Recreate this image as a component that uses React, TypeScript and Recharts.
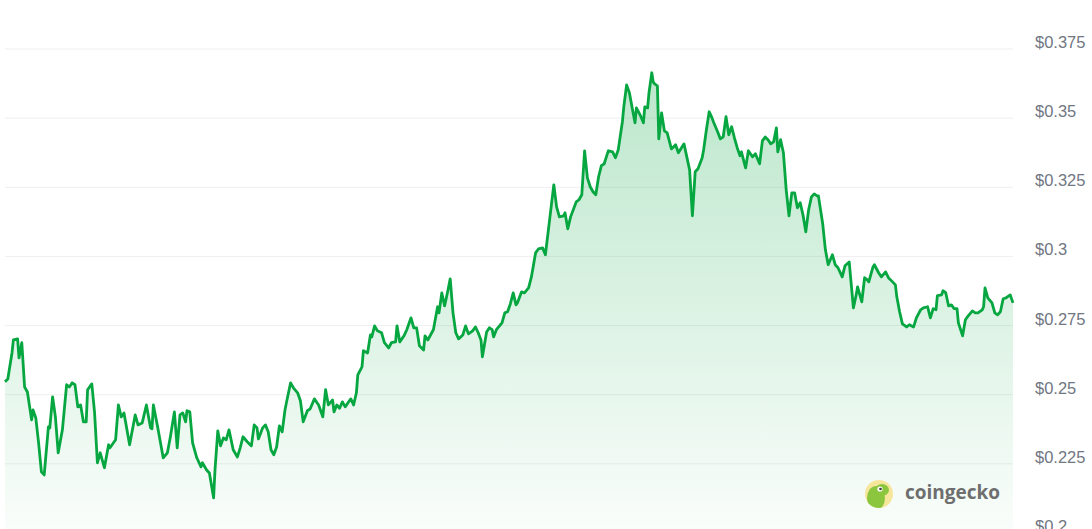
import React from "react";
import { AreaChart, Area, XAxis, YAxis, CartesianGrid } from "recharts";

const hours: number[] = [
  0, 2, 5, 6, 9, 10, 12, 14, 16, 19, 20, 22, 24, 26, 28, 31, 32, 34, 36, 38, 41, 44, 46, 48, 50, 52, 54, 56, 58, 59,
  62, 64, 66, 68, 71, 74, 75, 79, 81, 83, 85, 89, 93, 95, 98, 101, 104, 105, 106, 109, 113, 116, 118,
  121, 123, 125, 127, 129, 130, 132, 134, 137, 140, 141, 144, 146, 149, 150, 152, 154, 156, 158, 160, 163, 166, 168,
  170, 173, 176, 178, 180, 181, 184, 186, 188, 190, 192, 194, 196, 198, 200, 201, 204, 206, 209, 211, 213, 216, 218,
  221, 224, 227, 229, 231, 234, 235, 237, 239,
  241, 243, 245, 247, 249, 251, 252, 255, 256, 259, 261, 262, 264, 266, 269, 271, 274, 276, 279, 280, 282, 285, 287,
  290, 292, 294, 296, 299, 300, 302, 306, 309, 310, 312, 314, 316, 318, 320, 322, 324, 327, 329, 331, 334, 336, 338,
  340, 341, 344, 346, 348, 349, 351, 355, 357, 359, 361,
  363, 365, 366, 369, 371, 374, 376, 379, 381, 384, 386, 389, 392, 394, 396, 399, 400, 402, 404, 408, 410, 412, 414,
  416, 418, 420, 422, 424, 426, 428, 430, 431, 434, 436, 438, 441, 442, 444, 446, 448, 450, 451, 454, 456, 457, 459,
  460, 462, 463, 464, 466, 467, 469, 471, 473, 476, 477, 479, 481,
  485, 487, 489, 491, 493, 495, 498, 499, 501, 503, 505, 506, 509, 511, 513, 515, 517, 519, 521, 523, 525, 526, 529,
  531, 533, 534, 536, 539, 541, 543, 545, 547, 549, 551, 552, 554, 556, 558, 560, 562, 564, 566, 568, 570, 572, 574,
  576, 578, 580, 581, 584, 586, 588, 591, 593, 595, 598, 600, 603,
  606, 608, 609, 612, 614, 616, 617, 620, 621, 624, 626, 629, 631, 634, 636, 637, 639, 641, 644, 646, 649, 651, 654,
  656, 659, 661, 663, 665, 666, 669, 670, 672, 674, 676, 678, 680, 681, 684, 686, 688, 691, 693, 695, 698, 699, 700,
  702, 705, 707, 709, 711, 713, 715, 716, 718, 720,
];

const prices: number[] = [
  0.2547, 0.2557, 0.2651, 0.2698, 0.2702, 0.2633, 0.2688, 0.2528, 0.251, 0.2409, 0.2445, 0.2416, 0.2326, 0.2221, 0.221,
  0.2384, 0.238, 0.2492, 0.242, 0.229, 0.2373, 0.2536, 0.2528, 0.2543, 0.2536, 0.2456, 0.2463, 0.2402, 0.2402, 0.2518,
  0.2539, 0.2434, 0.2254, 0.229, 0.2236, 0.2319, 0.2308, 0.2337, 0.2463, 0.242, 0.2434, 0.2319, 0.2427, 0.2391, 0.2398,
  0.2463, 0.238, 0.2377, 0.2463, 0.2384, 0.2272, 0.229, 0.2344,
  0.2438, 0.2308, 0.2427, 0.2434, 0.2402, 0.2442, 0.2438, 0.2326, 0.2272, 0.2239, 0.2254, 0.2228, 0.2217, 0.2127,
  0.2228, 0.2369, 0.2315, 0.2344, 0.2337, 0.2373, 0.2301, 0.2275, 0.2308, 0.2348, 0.233, 0.2315, 0.2391, 0.238, 0.234,
  0.238, 0.2391, 0.2366, 0.2301, 0.2283, 0.2311, 0.2387, 0.2366, 0.2445, 0.2471, 0.2543, 0.2525, 0.2507, 0.2478,
  0.2402, 0.2442, 0.2449, 0.2485, 0.2463, 0.242, 0.2518, 0.2463, 0.2481, 0.2438, 0.2463, 0.2451,
  0.2474, 0.2456, 0.2471, 0.2485, 0.2463, 0.2507, 0.2572, 0.2601, 0.2659, 0.2651, 0.2716, 0.2709, 0.2749, 0.2731,
  0.2724, 0.2688, 0.2669, 0.2688, 0.2691, 0.2749, 0.2691, 0.2713, 0.2735, 0.2778, 0.2742, 0.2742, 0.2677, 0.2662,
  0.2713, 0.2698, 0.2735, 0.2818, 0.2796, 0.2868, 0.2821, 0.2868, 0.2919, 0.2796, 0.2724, 0.2702, 0.2716, 0.2749,
  0.272, 0.2731, 0.2745, 0.2724, 0.2698, 0.2637, 0.2727, 0.2742, 0.2735, 0.2709, 0.2735, 0.276, 0.2796, 0.28, 0.2829,
  0.2868, 0.2825, 0.2832, 0.2872, 0.2868, 0.2886, 0.2926, 0.3013, 0.3027, 0.3031, 0.3006, 0.3132, 0.3259, 0.3179,
  0.3143, 0.3147, 0.3158, 0.31, 0.3143, 0.3197, 0.3205, 0.3223, 0.3382, 0.3284, 0.3252, 0.3234, 0.3223, 0.3288,
  0.3328, 0.3335, 0.3367, 0.3382, 0.3378, 0.3357, 0.3385, 0.3487, 0.3541, 0.362, 0.3592, 0.3537, 0.3483, 0.3537,
  0.3508, 0.3483, 0.3541, 0.3537, 0.3592, 0.3664, 0.3631, 0.3624, 0.3617, 0.3425, 0.3519, 0.3454, 0.3447, 0.3389,
  0.3393, 0.3404, 0.3375,
  0.3407, 0.336, 0.3313, 0.3147, 0.3306, 0.3317, 0.3357, 0.3385, 0.3458, 0.3523, 0.3501, 0.3487, 0.3451, 0.3425,
  0.3432, 0.3505, 0.344, 0.3469, 0.3429, 0.3393, 0.3364, 0.3378, 0.332, 0.3382, 0.3367, 0.336, 0.3371, 0.3335, 0.3418,
  0.3432, 0.3422, 0.3407, 0.3414, 0.3465, 0.3378, 0.3422, 0.3375, 0.3241, 0.3147, 0.323, 0.323, 0.3176, 0.3194, 0.315,
  0.3089, 0.3168, 0.3215, 0.3226, 0.3219, 0.3219, 0.3121, 0.3024, 0.297, 0.3006, 0.297, 0.2959, 0.2926, 0.2966, 0.298,
  0.2814, 0.2861, 0.289, 0.2836, 0.2923, 0.2915, 0.2908, 0.2962, 0.297, 0.2941, 0.2926, 0.2944, 0.2923, 0.2908, 0.2897,
  0.2854, 0.28, 0.2756, 0.2745, 0.2753, 0.2745, 0.2778, 0.2807, 0.2814, 0.2818, 0.2778, 0.2811, 0.2807, 0.2858, 0.2861,
  0.2876, 0.2868, 0.2821, 0.2825, 0.2811, 0.2811, 0.276, 0.2713, 0.2771, 0.2785, 0.2803, 0.2796, 0.2796, 0.2807,
  0.2818, 0.2886, 0.285, 0.2832, 0.2796, 0.2789, 0.28, 0.2847, 0.285, 0.2854, 0.2861, 0.2832,
];

const yTicks: number[] = [0.2, 0.225, 0.25, 0.275, 0.3, 0.325, 0.35, 0.375];
const yTickLabels: string[] = ["$0.2", "$0.225", "$0.25", "$0.275", "$0.3", "$0.325", "$0.35", "$0.375"];

const data = hours.map((t, i) => ({ t, price: prices[i] }));

const LINE = "#06a640";

const PriceTick = (props: any) => {
  const { x, y, payload } = props;
  const idx = yTicks.indexOf(payload.value);
  return (
    <text
      x={x}
      y={y - 1}
      fill="#717782"
      fontSize={16.5}
      fontFamily="'Liberation Sans', Arial, sans-serif"
      textAnchor="start"
    >
      {idx >= 0 ? yTickLabels[idx] : payload.value}
    </text>
  );
};

export default function App() {
  return (
    <div
      style={{
        position: "absolute",
        left: 0,
        top: 0,
        width: 1092,
        height: 529,
        overflow: "hidden",
        background: "#ffffff",
      }}
    >
      <AreaChart width={1092} height={545} data={data} margin={{ top: 49, right: 0, bottom: 12, left: 5 }}>
        <defs>
          <linearGradient id="priceFill" x1="0" y1="0" x2="0" y2="1">
            <stop offset="0%" stopColor={LINE} stopOpacity={0.27} />
            <stop offset="100%" stopColor={LINE} stopOpacity={0.02} />
          </linearGradient>
        </defs>
        <CartesianGrid vertical={false} stroke="#efefef" strokeWidth={1} />
        <XAxis dataKey="t" type="number" domain={["dataMin", "dataMax"]} hide />
        <YAxis
          orientation="right"
          type="number"
          domain={[0.2, 0.375]}
          ticks={yTicks}
          width={79}
          axisLine={false}
          tickLine={false}
          tickSize={0}
          tickMargin={22}
          tick={<PriceTick />}
          interval={0}
        />
        <Area
          type="linear"
          dataKey="price"
          stroke={LINE}
          strokeWidth={2.8}
          strokeLinejoin="round"
          fill="url(#priceFill)"
          fillOpacity={1}
          dot={false}
          activeDot={false}
          isAnimationActive={false}
        />
      </AreaChart>
      <svg
        width={1092}
        height={529}
        style={{ position: "absolute", left: 0, top: 0, pointerEvents: "none" }}
      >
        <defs>
          <clipPath id="geckoClip">
            <circle cx={879} cy={494} r={14} />
          </clipPath>
        </defs>
        <circle cx={879} cy={494} r={14} fill="#f6e69c" />
        <g clipPath="url(#geckoClip)">
          <ellipse cx={876} cy={498} rx={9} ry={12} fill="#8cc63f" />
          <ellipse cx={882} cy={490} rx={7} ry={6} fill="#8cc63f" />
        </g>
        <circle cx={880} cy={489} r={2.6} fill="#ffffff" />
        <circle cx={880.5} cy={489} r={1.3} fill="#3b3b3b" />
        <text
          x={905}
          y={499}
          fill="#6e6e6e"
          fontSize={19}
          fontWeight={700}
          fontFamily="'Open Sans', 'Noto Sans', sans-serif"
        >
          coingecko
        </text>
      </svg>
    </div>
  );
}
